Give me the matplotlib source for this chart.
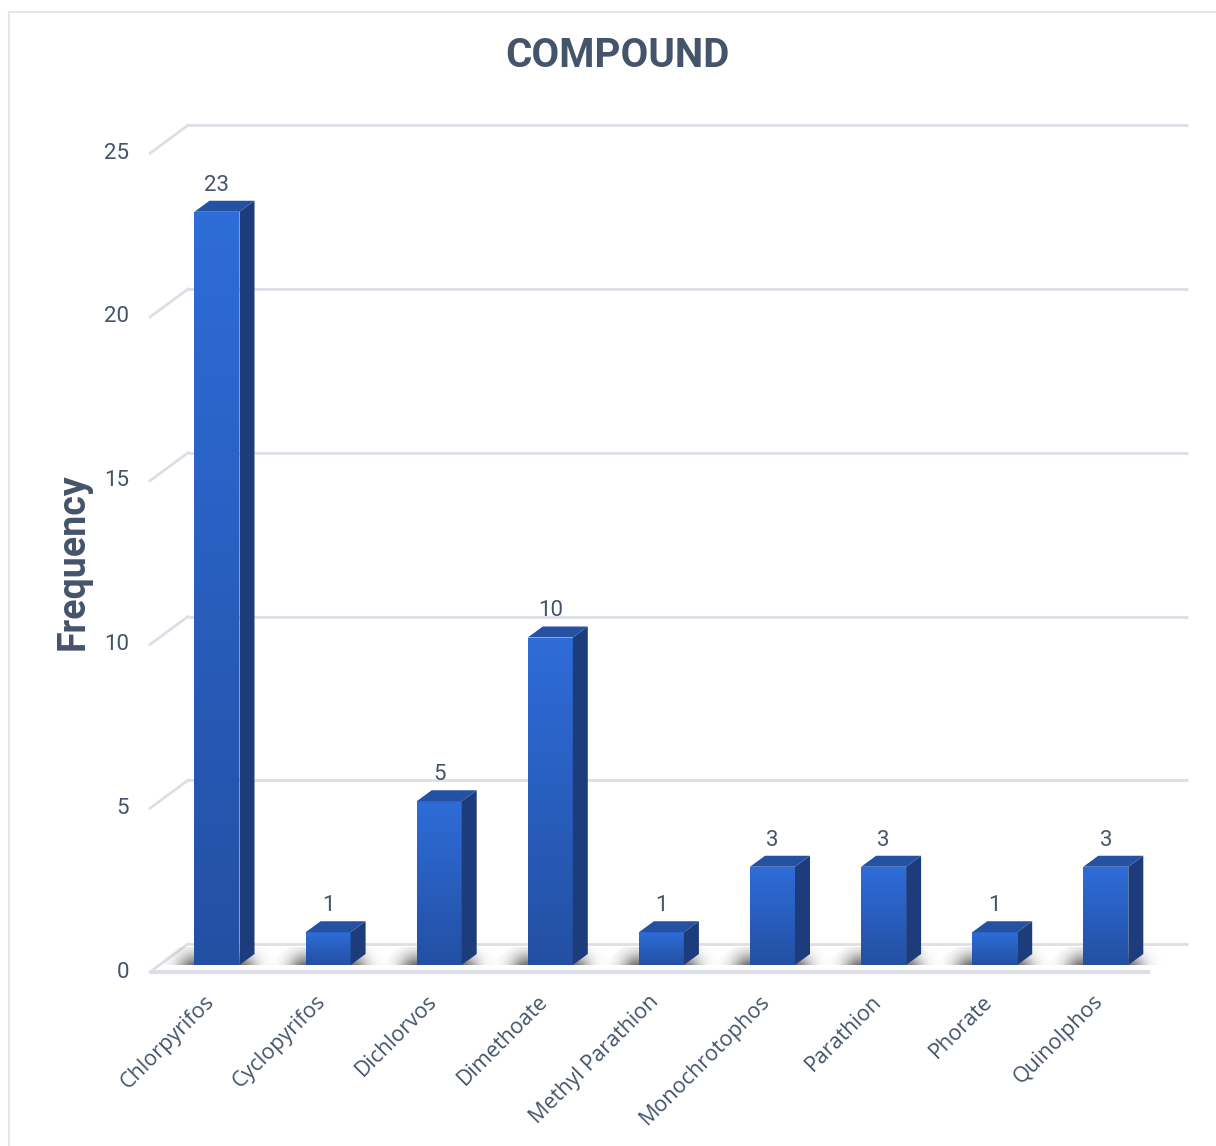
import numpy as np
import matplotlib
matplotlib.use('Agg')
import matplotlib.pyplot as plt
from matplotlib.patches import Polygon, Rectangle
from matplotlib.colors import LinearSegmentedColormap

plt.rcParams['font.family'] = ['Roboto', 'DejaVu Sans']

compounds = ['Chlorpyrifos', 'Cyclopyrifos', 'Dichlorvos', 'Dimethoate',
             'Methyl Parathion', 'Monochrotophos', 'Parathion', 'Phorate',
             'Quinolphos']
frequency = [23, 1, 5, 10, 1, 3, 3, 1, 3]
yticks = [0, 5, 10, 15, 20, 25]

title = 'COMPOUND'
ylabel = 'Frequency'

text_color = '#44546a'
grid_color = '#dcdfe6'
front_top = '#2e6cd8'
front_bottom = '#2350a3'
side_color = '#1c3c7c'
top_color = '#2451a2'

# pixels per unit along each axis, used to size the pseudo-3d offsets
px_cat = 111.1
px_val = 32.75

half_w = 22.5 / px_cat            # half width of a bar front
bar_dx, bar_dy = 15 / px_cat, 11 / px_val   # bar depth
floor_y = -7 / px_val             # front edge of the floor
wall_dx, wall_dy = 38 / px_cat, 28 / px_val  # floor depth / back wall offset
floor_x0, floor_x1 = -67 / px_cat, 933 / px_cat

W, H = 1216, 1146
fig = plt.figure(figsize=(W / 100, H / 100), dpi=100)

# outer chart frame
fig.patches.append(Rectangle((9 / W, -0.1), 1.2, (H - 12) / H + 0.1,
                             transform=fig.transFigure, fill=False,
                             edgecolor='#e3e6eb', lw=1.5))

ax_l, ax_r, ax_t, ax_b = 100, 1200, 100, 990
ax = fig.add_axes([ax_l / W, (H - ax_b) / H, (ax_r - ax_l) / W,
                   (ax_b - ax_t) / H])
xlim = ((ax_l - 217) / px_cat, (ax_r - 217) / px_cat)
ylim = ((965 - ax_b) / px_val, (965 - ax_t) / px_val)
ax.axis('off')

# back wall gridlines plus the slanted left wall lines
for v in yticks:
    yb = floor_y + wall_dy + v
    yf = floor_y + v
    ax.plot([floor_x0 + wall_dx, floor_x1 + wall_dx], [yb, yb],
            color=grid_color, lw=2, zorder=1, solid_capstyle='butt')
    ax.plot([floor_x0, floor_x0 + wall_dx], [yf, yb],
            color=grid_color, lw=2, zorder=1)
    ax.text(floor_x0 - 21 / px_cat, yf, str(v), ha='right', va='center',
            fontsize=16, color=text_color)

# floor front edge
ax.plot([floor_x0, floor_x1], [floor_y, floor_y], color=grid_color, lw=3,
        zorder=1, solid_capstyle='butt')

# soft shadow cast on the floor around each bar base
pad_l, pad_r = 40, 34            # shadow reach in px left / right of bar
nx, ny = 160, 24
sx = np.linspace(-pad_l, 45 + pad_r, nx)
prof = np.where(sx < 0, np.exp(-(sx / 17.0) ** 2),
                np.where(sx > 45, np.exp(-((sx - 45) / 16.0) ** 2), 1.0))
gy = np.linspace(0, 1, ny)[:, None]
alpha = prof[None, :] * (0.15 + 0.85 * gy ** 1.3) * 0.9
shadow = np.zeros((ny, nx, 4))
shadow[..., :3] = 0.38
shadow[..., 3] = alpha

grad = LinearSegmentedColormap.from_list('bar', [front_bottom, front_top])
vgrad = np.linspace(0, 1, 64)[:, None]

for i, f in enumerate(frequency):
    x0, x1 = i - half_w, i + half_w
    sh_x0 = x0 - pad_l / px_cat
    sh_x1 = x1 + pad_r / px_cat
    sh_y1 = floor_y + wall_dy - 3 / px_val
    im = ax.imshow(shadow, extent=(sh_x0, sh_x1, 0, sh_y1), origin='upper',
                   aspect='auto', zorder=2, interpolation='bilinear')
    clip = Polygon([(sh_x0, 0), (sh_x1, 0),
                    (sh_x1 + 14 / px_cat, sh_y1),
                    (sh_x0 + 24 / px_cat, sh_y1)],
                   closed=True, transform=ax.transData)
    im.set_clip_path(clip)

    # front face with vertical gradient
    im = ax.imshow(vgrad, extent=(x0, x1, 0, f), origin='lower', cmap=grad,
                   aspect='auto', zorder=4, interpolation='bilinear')
    im.set_clip_path(Rectangle((x0, 0), x1 - x0, f, transform=ax.transData))
    # side and top faces
    ax.add_patch(Polygon([(x1, 0), (x1 + bar_dx, bar_dy),
                          (x1 + bar_dx, f + bar_dy), (x1, f)],
                         closed=True, facecolor=side_color, edgecolor='none',
                         zorder=4))
    ax.add_patch(Polygon([(x0, f), (x1, f), (x1 + bar_dx, f + bar_dy),
                          (x0 + bar_dx, f + bar_dy)],
                         closed=True, facecolor=top_color, edgecolor='none',
                         zorder=4))
    ax.text(i, f + bar_dy + 5 / px_val, str(f), ha='center', va='bottom',
            fontsize=16, color=text_color, zorder=5)
    ax.text(i - 13 / px_cat, floor_y - 19 / px_val, compounds[i], rotation=45,
            rotation_mode='anchor', ha='right', va='top', fontsize=15.5,
            color=text_color, family=['Open Sans', 'DejaVu Sans'])

ax.set_xlim(xlim)
ax.set_ylim(ylim)

fig.text(617 / W, 1 - 56 / H, title, ha='center', va='center',
         fontsize=29, fontweight='bold', color=text_color)
fig.text(73 / W, 1 - 562 / H, ylabel, ha='center', va='center',
         rotation=90, fontsize=27, fontweight='bold', color=text_color)

fig.savefig('out.png', dpi=100, facecolor='white')
